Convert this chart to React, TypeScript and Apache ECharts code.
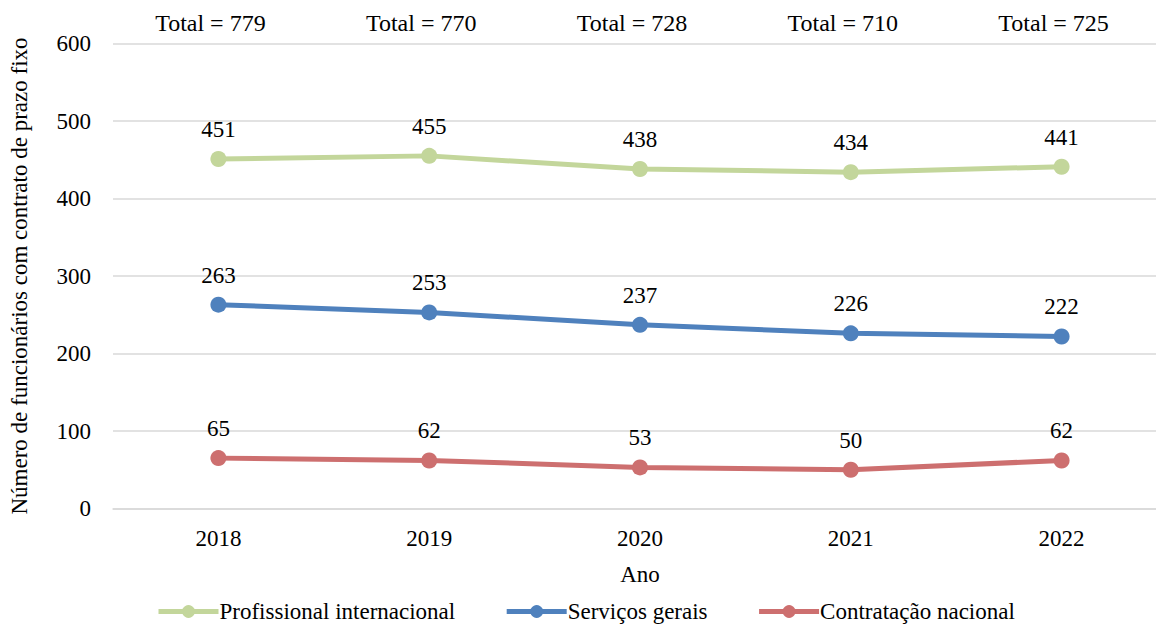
import React, { useEffect, useRef } from "react";
import * as echarts from "echarts";

const years = ["2018", "2019", "2020", "2021", "2022"];
const totals = [779, 770, 728, 710, 725];
const profissional = [451, 455, 438, 434, 441];
const servicos = [263, 253, 237, 226, 222];
const contratacao = [65, 62, 53, 50, 62];
const seriesNames = ["Profissional internacional", "Serviços gerais", "Contratação nacional"];
const colors = ["#c3d69b", "#4f81bd", "#cd6f6f"];

const FONT = "Liberation Serif";

export default function App() {
  const ref = useRef<HTMLDivElement>(null);
  useEffect(() => {
    if (!ref.current) return;
    const chart = echarts.init(ref.current, undefined, { renderer: "svg" });
    const dataSets = [profissional, servicos, contratacao];
    chart.setOption({
      animation: false,
      textStyle: { fontFamily: FONT, color: "#000" },
      grid: { left: 112, top: 43.5, height: 465, width: 1055 },
      xAxis: [
        {
          type: "category",
          data: years,
          boundaryGap: true,
          axisLine: { lineStyle: { color: "#d9d9d9", width: 1.5 } },
          axisTick: { alignWithLabel: true, length: 5, lineStyle: { color: "#d9d9d9", width: 1.5 } },
          axisLabel: { fontSize: 23, color: "#000", fontFamily: FONT, margin: 18 },
          name: "Ano",
          nameLocation: "middle",
          nameGap: 54,
          nameTextStyle: { fontSize: 23, color: "#000", fontFamily: FONT },
        },
        {
          type: "category",
          position: "top",
          data: totals.map((t) => "Total = " + t),
          boundaryGap: true,
          axisLine: { show: false },
          axisTick: { show: false },
          axisLabel: { fontSize: 24, color: "#000", fontFamily: FONT, margin: 9, padding: [0, 16, 0, 0] },
        },
      ],
      yAxis: {
        type: "value",
        min: 0,
        max: 600,
        interval: 100,
        axisLine: { show: false },
        axisTick: { show: false },
        splitLine: { lineStyle: { color: "#d9d9d9", width: 1.5 } },
        axisLabel: { fontSize: 23, color: "#000", fontFamily: FONT, margin: 22 },
        name: "Número de funcionários com contrato de prazo fixo",
        nameLocation: "middle",
        nameGap: 82,
        nameRotate: 90,
        nameTextStyle: { fontSize: 23, color: "#000", fontFamily: FONT },
      },
      legend: {
        top: 595,
        left: 151,
        itemWidth: 60,
        itemHeight: 16,
        itemGap: 49,
        lineStyle: { width: 5 },
        textStyle: { fontSize: 23, color: "#000", fontFamily: FONT, padding: [0, 0, 0, -4] },
        data: seriesNames,
      },
      series: seriesNames.map((name, i) => ({
        name,
        type: "line",
        xAxisIndex: 0,
        data: dataSets[i],
        symbol: "circle",
        symbolSize: 16,
        color: colors[i],
        lineStyle: { width: 5, color: colors[i] },
        itemStyle: { color: colors[i] },
        label: {
          show: true,
          position: "top",
          distance: 10,
          fontSize: 23,
          color: "#000",
          fontFamily: FONT,
        },
      })),
    });
    return () => chart.dispose();
  }, []);
  return (
    <div style={{ position: "fixed", left: 0, top: 0, width: 1156, height: 624, overflow: "hidden", background: "#fff" }}>
      <div ref={ref} style={{ width: 1190, height: 624 }} />
    </div>
  );
}
